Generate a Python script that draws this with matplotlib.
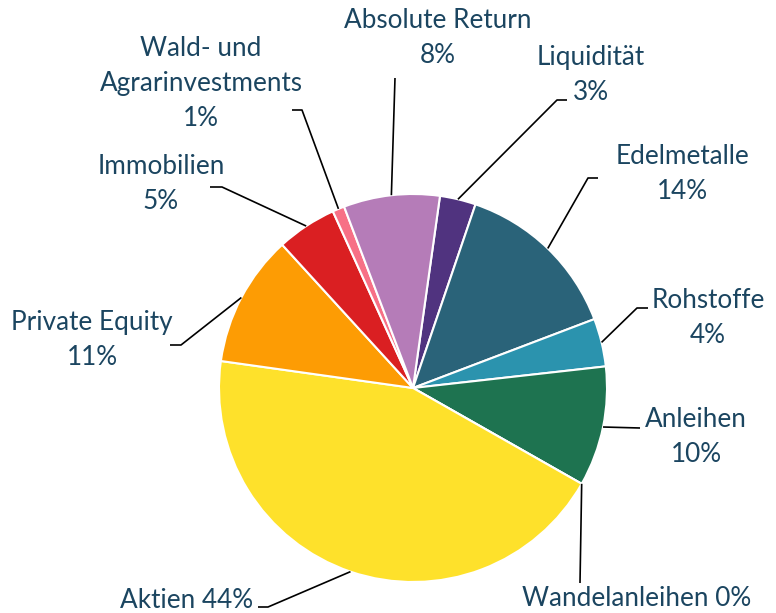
import numpy as np
import matplotlib.pyplot as plt

# Asset allocation (clockwise, starting just right of 12 o'clock)
categories = ['Liquidität', 'Edelmetalle', 'Rohstoffe', 'Anleihen', 'Wandelanleihen',
              'Aktien', 'Private Equity', 'Immobilien',
              'Wald- und Agrarinvestments', 'Absolute Return']
values = [3, 14, 4, 10, 0, 44, 11, 5, 1, 8]
label_texts = ['Liquidität\n3%', 'Edelmetalle\n14%', 'Rohstoffe\n4%', 'Anleihen\n10%',
               'Wandelanleihen 0%', 'Aktien 44%', 'Private Equity\n11%',
               'Immobilien\n5%', 'Wald- und\nAgrarinvestments\n1%', 'Absolute Return\n8%']
colors = ['#50337f', '#2a6379', '#2b93ae', '#1e7350', '#1e7350',
          '#fee12b', '#fd9c04', '#da1f22', '#f77086', '#b57cb8']

# layout in image pixels (x right, y down)
W, H = 776, 613
cx, cy, R = 413, 388, 194
start = 82
text_pos = [(591, 75), (682, 174), (708, 318), (696, 437), (637, 598),
            (187, 600), (92, 340), (161, 184), (201, 83), (438, 38)]
leader_pts = [[(567, 100), (557, 100)], [(598, 178), (588, 178)],
              [(648, 308), (637, 308)], [(640, 428)], [(580, 583)],
              [(258, 607), (268, 607)], [(170, 345), (181, 345)],
              [(210, 187), (222, 187)], [(292, 110), (302, 110)], [(395, 78)]]

text_color = '#1b4560'

fig = plt.figure(figsize=(W / 100, H / 100), dpi=100)
ax = fig.add_axes([0, 0, 1, 1])

ax.pie(values, colors=colors, startangle=start, counterclock=False,
       center=(cx, H - cy), radius=R, frame=True,
       wedgeprops=dict(edgecolor='white', linewidth=1.5))

cum = np.cumsum([0] + values[:-1])
for i, v in enumerate(values):
    ang = np.deg2rad(start - 360 * (cum[i] + v / 2) / 100)
    ex, ey = cx + R * np.cos(ang), (H - cy) + R * np.sin(ang)
    xs = [p[0] for p in leader_pts[i]] + [ex]
    ys = [H - p[1] for p in leader_pts[i]] + [ey]
    ax.plot(xs, ys, color='black', lw=1.2, solid_capstyle='butt', zorder=3)
    tx, ty = text_pos[i]
    ax.text(tx, H - ty, label_texts[i], ha='center', va='center', fontsize=18.8,
            color=text_color, family='Lato', linespacing=1.5)

ax.set_xlim(0, W)
ax.set_ylim(0, H)
ax.set_aspect('equal')
ax.axis('off')

fig.savefig('out.png', dpi=100)
